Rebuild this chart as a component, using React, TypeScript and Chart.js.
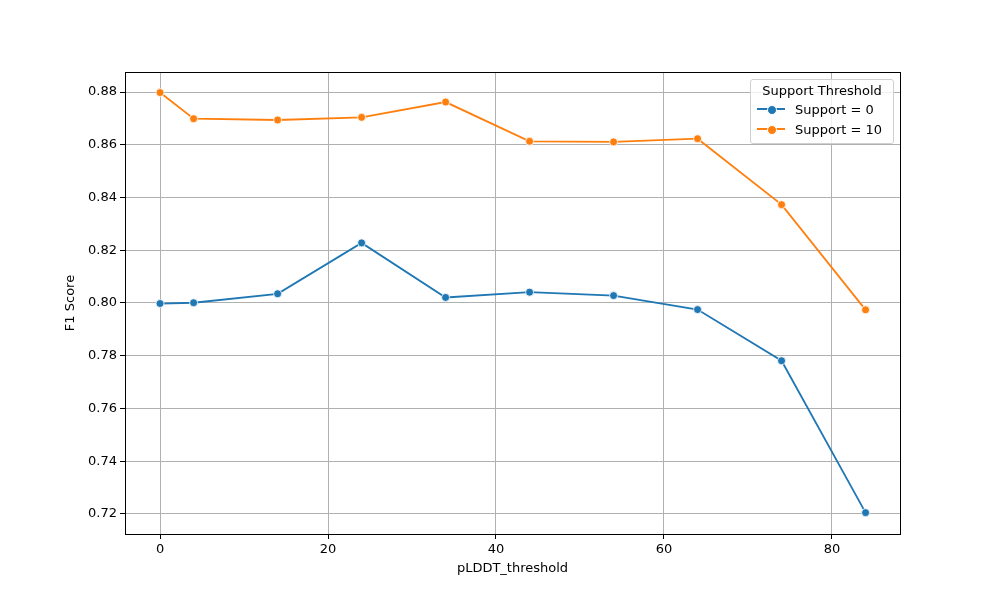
import { useEffect, useRef } from "react"
import { Chart, registerables } from "chart.js"

Chart.register(...registerables)

const thresholds = [0, 4, 14, 24, 34, 44, 54, 64, 74, 84]
const support0 = [0.7998, 0.8001, 0.8035, 0.8228, 0.8021, 0.8041, 0.8028, 0.7975, 0.7781, 0.7205]
const support10 = [0.8798, 0.8699, 0.8694, 0.8704, 0.8762, 0.8613, 0.8611, 0.8623, 0.8373, 0.7974]
const xTicks = [0, 20, 40, 60, 80]
const yTicks = [0.72, 0.74, 0.76, 0.78, 0.8, 0.82, 0.84, 0.86, 0.88]

const BLUE = "#1f77b4"
const ORANGE = "#ff7f0e"
const FONT = "'DejaVu Sans', sans-serif"

function LegendRow({ color, label }: { color: string; label: string }) {
  return (
    <div style={{ display: "flex", alignItems: "center", height: 20 }}>
      <div style={{ position: "relative", width: 28, height: 10, marginRight: 10 }}>
        <div style={{ position: "absolute", top: 4, left: 0, width: 28, height: 2, background: color }} />
        <div style={{ position: "absolute", top: 1, left: 10, width: 8, height: 8, borderRadius: "50%", background: color, border: "0.5px solid white" }} />
      </div>
      <span>{label}</span>
    </div>
  )
}

export default function App() {
  const canvasRef = useRef<HTMLCanvasElement>(null)
  const chartRef = useRef<Chart | null>(null)

  useEffect(() => {
    document.body.style.margin = "0"
    if (!canvasRef.current) return
    const ctx = canvasRef.current.getContext("2d")
    if (!ctx) return
    if (chartRef.current) chartRef.current.destroy()

    const mk = (vals: number[], color: string, label: string) => ({
      label,
      data: thresholds.map((x, i) => ({ x, y: vals[i] })),
      borderColor: color,
      backgroundColor: color,
      borderWidth: 1.8,
      pointRadius: 4,
      pointBorderColor: "#ffffff",
      pointBorderWidth: 0.8,
      showLine: true,
      tension: 0,
    })

    chartRef.current = new Chart(ctx, {
      type: "scatter",
      data: { datasets: [mk(support0, BLUE, "Support = 0"), mk(support10, ORANGE, "Support = 10")] },
      options: {
        animation: false,
        responsive: false,
        devicePixelRatio: 1,
        layout: { padding: { top: 72, right: 100, left: 0, bottom: 0 } },
        plugins: { legend: { display: false }, tooltip: { enabled: false } },
        scales: {
          x: {
            type: "linear",
            min: -4.17,
            max: 88.1,
            afterBuildTicks: (s: any) => { s.ticks = xTicks.map((v) => ({ value: v })) },
            afterFit: (s: any) => { s.height = 66 },
            grid: { color: "#b0b0b0", lineWidth: 1, tickLength: 5, tickColor: "#000" },
            border: { color: "#000", width: 1 },
            ticks: { color: "#000", font: { family: FONT, size: 13 }, padding: 3 },
          },
          y: {
            type: "linear",
            min: 0.7124,
            max: 0.8876,
            afterBuildTicks: (s: any) => { s.ticks = yTicks.map((v) => ({ value: v })) },
            afterFit: (s: any) => { s.width = 125 },
            grid: { color: "#b0b0b0", lineWidth: 1, tickLength: 5, tickColor: "#000" },
            border: { color: "#000", width: 1 },
            ticks: { color: "#000", font: { family: FONT, size: 13 }, padding: 3, callback: (v: any) => Number(v).toFixed(2) },
          },
        },
      },
      plugins: [{
        id: "frame",
        afterDraw: (c: any) => {
          const { left, right, top, bottom } = c.chartArea
          const g = c.ctx
          g.save()
          g.strokeStyle = "#000"
          g.lineWidth = 1
          g.strokeRect(left + 0.5, top + 0.5, right - left, bottom - top)
          g.fillStyle = "#000"
          g.font = `13px ${FONT}`
          g.textAlign = "center"
          g.textBaseline = "middle"
          g.fillText("pLDDT_threshold", (left + right) / 2, 569)
          g.translate(71, (top + bottom) / 2)
          g.rotate(-Math.PI / 2)
          g.fillText("F1 Score", 0, 0)
          g.restore()
        },
      }],
    })

    return () => {
      if (chartRef.current) chartRef.current.destroy()
      chartRef.current = null
    }
  }, [])

  return (
    <div style={{ position: "relative", width: 1000, height: 600, background: "#fff" }}>
      <canvas ref={canvasRef} width={1000} height={600} />
      <div style={{
        position: "absolute", left: 750, top: 79, width: 130, padding: "3px 6px 4px 6px",
        border: "1px solid #d0d0d0", borderRadius: 3, background: "rgba(255,255,255,0.8)",
        fontFamily: FONT, fontSize: 13, color: "#000",
      }}>
        <div style={{ textAlign: "center", marginBottom: 1 }}>Support Threshold</div>
        <LegendRow color={BLUE} label="Support = 0" />
        <LegendRow color={ORANGE} label="Support = 10" />
      </div>
    </div>
  )
}
